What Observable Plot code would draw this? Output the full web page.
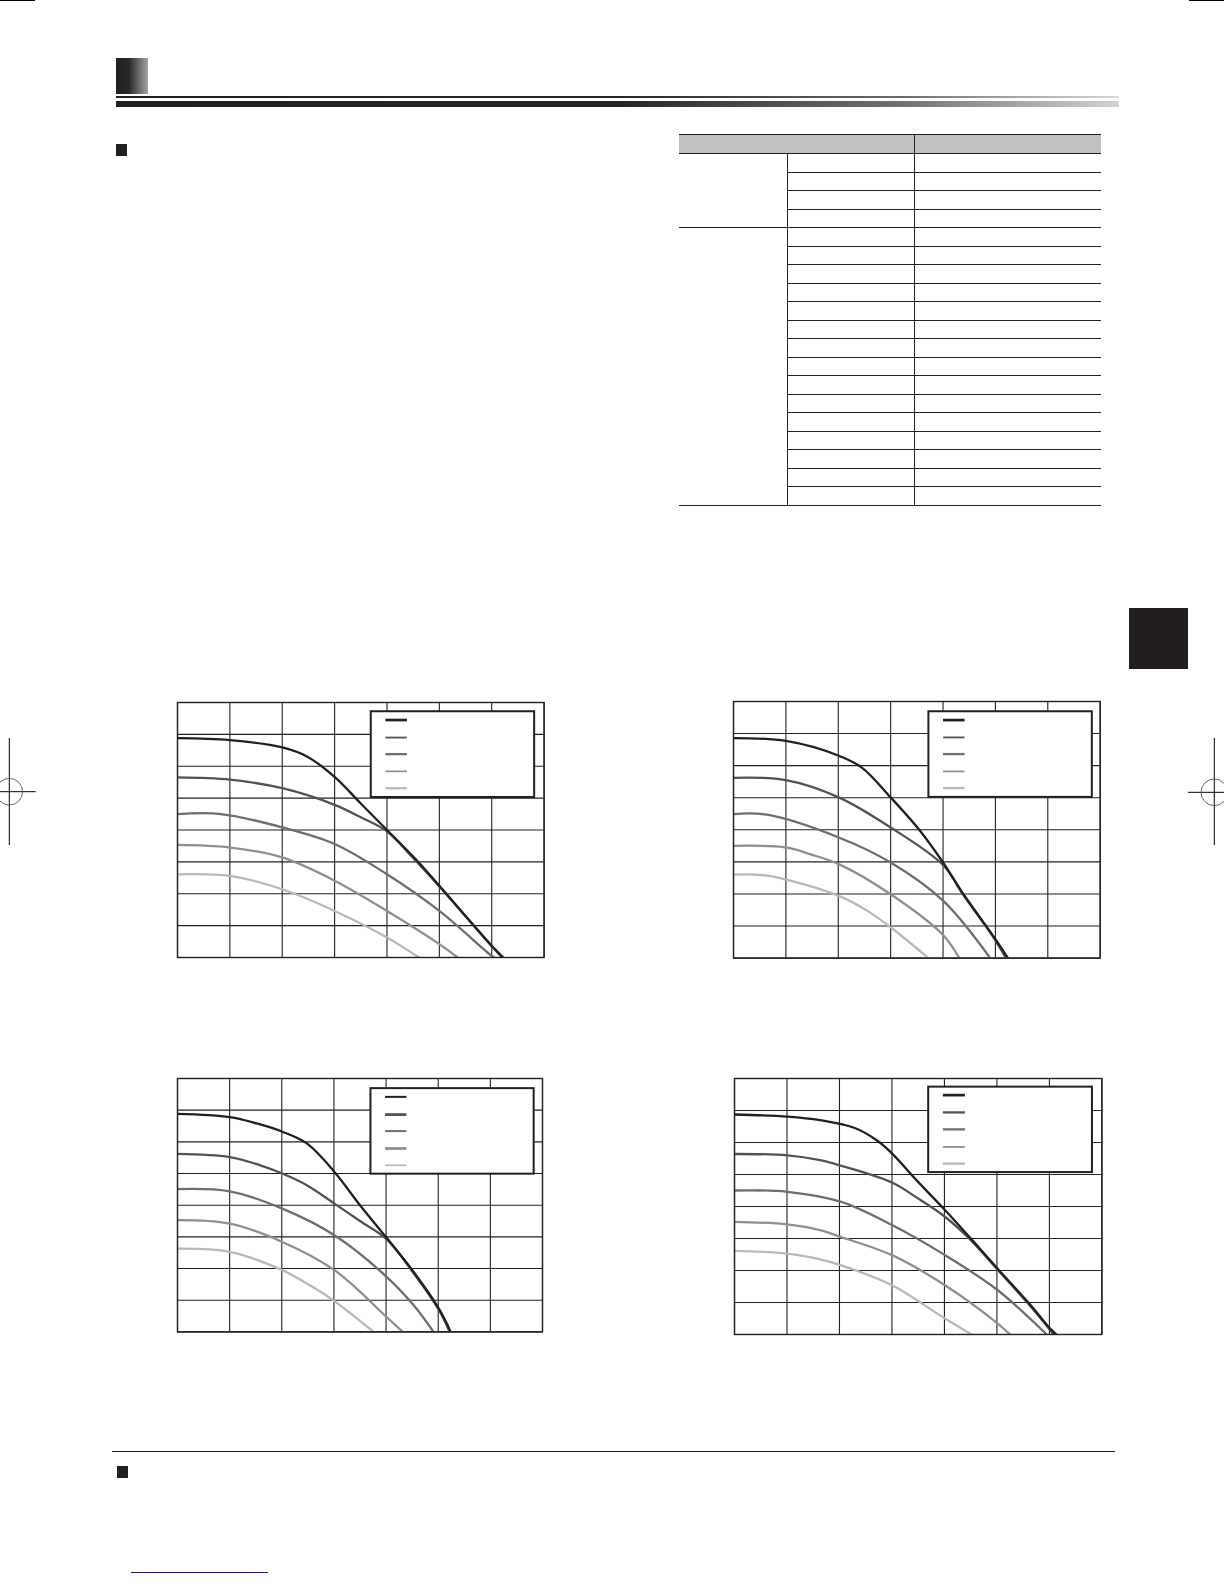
<!DOCTYPE html>
<html>
<head>
<meta charset="utf-8">
<script src="https://cdn.jsdelivr.net/npm/d3@7"></script>
<script src="https://cdn.jsdelivr.net/npm/@observablehq/plot@0.6"></script>
<style>
  html, body { margin: 0; padding: 0; background: #fff; }
  #page { position: relative; width: 1224px; height: 1584px; overflow: hidden; background: #fff; font-family: "DejaVu Sans", sans-serif; }
  .abs { position: absolute; }
  #spec { position: absolute; left: 679px; top: 134px; width: 422px; border-collapse: collapse; table-layout: fixed; }
  #spec th { height: 18px; background: #c0c0c0; border-top: 1.5px solid #231f20; border-bottom: 1.5px solid #231f20; padding: 0; }
  #spec td { height: 17.5px; padding: 0; }
  #spec td.g { border-bottom: 1.3px solid #231f20; }
  #spec td.c2 { border-left: 1.3px solid #231f20; border-right: 1.3px solid #231f20; border-bottom: 1.3px solid #231f20; }
  #spec td.c3 { border-bottom: 1.3px solid #231f20; }
</style>
</head>
<body>
<div id="page">
  <!-- crop marks -->
  <svg class="abs" style="left:0;top:0" width="1224" height="1584">
    <line x1="0" y1="0.5" x2="35" y2="0.5" stroke="#000" stroke-width="1.2"/>
    <line x1="1189" y1="0.5" x2="1224" y2="0.5" stroke="#000" stroke-width="1.2"/>
    <line x1="9.3" y1="738" x2="9.3" y2="845" stroke="#000" stroke-width="1"/>
    <line x1="0" y1="791.7" x2="35.7" y2="791.7" stroke="#000" stroke-width="1"/>
    <circle cx="9.3" cy="791.7" r="13.3" fill="none" stroke="#555" stroke-width="0.9"/>
    <line x1="1214.3" y1="738" x2="1214.3" y2="845" stroke="#000" stroke-width="1"/>
    <line x1="1188" y1="792.3" x2="1224" y2="792.3" stroke="#000" stroke-width="1"/>
    <circle cx="1214.3" cy="792.3" r="13.3" fill="none" stroke="#555" stroke-width="0.9"/>
  </svg>
  <!-- header -->
  <div class="abs" style="left:116px;top:58px;width:32px;height:36px;background:linear-gradient(to right,#231f20 0%,#2a2728 40%,#a5a5a5 100%)"></div>
  <div class="abs" style="left:116px;top:96px;width:1003px;height:2px;background:linear-gradient(to right,#231f20 0%,#262626 50%,#6a6a6a 78%,#d8d8d8 100%)"></div>
  <div class="abs" style="left:116px;top:101px;width:1003px;height:6px;background:linear-gradient(to right,#231f20 0%,#262626 50%,#707070 78%,#d2d2d2 100%)"></div>
  <!-- section markers -->
  <div class="abs" style="left:116px;top:144px;width:11px;height:12px;background:#231f20"></div>
  <div class="abs" style="left:117px;top:1466px;width:11px;height:12px;background:#231f20"></div>
  <div class="abs" style="left:112px;top:1450.5px;width:1003px;height:1.3px;background:#231f20"></div>
  <div class="abs" style="left:131px;top:1572px;width:137px;height:1px;background:#1c1c80"></div>
  <!-- side tab -->
  <div class="abs" style="left:1129px;top:608px;width:59px;height:61px;background:#231f20"></div>
  <!-- table -->
  <table id="spec">
    <colgroup><col style="width:108px"><col style="width:127.5px"><col style="width:186.5px"></colgroup>
    <thead><tr><th colspan="2" style="border-right:1.3px solid #231f20"></th><th></th></tr></thead>
    <tbody id="specBody"></tbody>
  </table>
  <div id="charts"></div>
</div>
<script>
// ---- table structure ----
const tableGroups = [4, 15];

// ---- chart grid ----
const xTicks = [0, 1, 2, 3, 4, 5, 6, 7];
const yTicks = [0, 1, 2, 3, 4, 5, 6, 7, 8];
const seriesColors = ["#231f20", "#525252", "#6e6e6e", "#8f8f8f", "#b8b8b8"];

// ---- chart A (top-left) ----
const A1 = [[0,6.88],[1,6.82],[2,6.59],[2.48,6.30],[3.01,5.65],[3.5,4.83],[4,4.0],[4.58,3.03],[5,2.25],[6,0.37],[6.22,0]];
const A2 = [[0,5.65],[1,5.58],[2,5.31],[3,4.79],[3.5,4.40],[4,3.96],[4.5,3.12],[5,2.23],[6,0.35],[6.2,0]];
const A3 = [[0,4.50],[0.83,4.50],[2,4.08],[3,3.56],[4,2.61],[5,1.46],[6,0.05],[6.05,0]];
const A4 = [[0,3.53],[1,3.45],[2,3.14],[3,2.41],[4,1.46],[5,0.42],[5.35,0]];
const A5 = [[0,2.61],[1,2.56],[2,2.14],[3,1.46],[4,0.63],[4.61,0]];
const A_legendBox = [3.70, 6.82, 5.02, 7.71];
const A_legendX = [3.98, 4.39];
const A_legendY = [7.45, 6.90, 6.38, 5.84, 5.31];
const A_legendW = [2.7, 1.8, 2.3, 1.7, 2.3];

// ---- chart B (top-right) ----
const B1 = [[0,6.86],[1,6.77],[2.01,6.31],[2.45,5.94],[3,5.01],[3.56,3.97],[4,2.98],[4.39,1.99],[4.98,0.64],[5.24,0]];
const B2 = [[0,5.62],[1,5.55],[2.01,5.01],[3,4.07],[4,2.90],[4.39,1.96],[4.98,0.6],[5.2,0]];
const B3 = [[0,4.49],[0.64,4.47],[2.01,3.76],[3,2.98],[4,1.79],[4.9,0]];
const B4 = [[0,3.50],[1,3.45],[1.46,3.24],[2.01,2.93],[3,1.99],[4,0.72],[4.31,0]];
const B5 = [[0,2.60],[0.64,2.57],[2.01,1.94],[2.55,1.48],[3,0.96],[3.72,0]];
const B_legendBox = [3.73, 6.85, 5.01, 7.68];
const B_legendX = [4.01, 4.42];
const B_legendY = [7.42, 6.88, 6.36, 5.82, 5.30];
const B_legendW = [2.7, 1.8, 2.3, 1.7, 2.3];

// ---- chart C (bottom-left) ----
const C1 = [[0,6.88],[1,6.78],[1.52,6.58],[2.01,6.32],[2.48,5.95],[3.01,5.05],[3.5,4.0],[4.01,2.97],[4.53,1.89],[5.01,0.74],[5.24,0]];
const C2 = [[0,5.62],[1,5.52],[1.59,5.26],[2.01,5.0],[2.48,4.63],[3.01,4.05],[3.5,3.50],[4.01,2.93],[4.53,1.85],[5.01,0.70],[5.22,0]];
const C3 = [[0,4.51],[1,4.44],[2.01,3.89],[3.01,3.05],[4.01,1.74],[4.53,0.84],[4.91,0]];
const C4 = [[0,3.53],[1,3.42],[2.01,2.84],[3.01,1.95],[4.01,0.47],[4.32,0]];
const C5 = [[0,2.63],[1,2.53],[2.01,1.95],[2.54,1.47],[3.01,0.97],[3.76,0]];
const C_legendBox = [3.71, 6.84, 4.98, 7.68];
const C_legendX = [3.99, 4.40];
const C_legendY = [7.42, 6.86, 6.34, 5.79, 5.26];
const C_legendW = [2.0, 2.8, 2.0, 2.8, 1.7];

// ---- chart D (bottom-right) ----
const D1 = [[0,6.875],[1.01,6.81],[1.63,6.70],[2.28,6.46],[2.71,6.07],[3,5.66],[3.48,4.80],[4.01,3.89],[4.49,3.02],[5.01,2.06],[5.64,0.92],[6.01,0.19],[6.13,0]];
const D2 = [[0,5.64],[1.01,5.60],[1.63,5.45],[2.02,5.28],[3,4.75],[3.48,4.27],[4.01,3.68],[4.49,2.97],[5.01,2.03],[5.64,0.88],[6.08,0]];
const D3 = [[0,4.5],[1.01,4.46],[2.02,4.15],[3,3.42],[4.01,2.48],[5.01,1.39],[5.95,0]];
const D4 = [[0,3.52],[1.01,3.44],[1.63,3.26],[2.02,3.05],[3,2.48],[4.01,1.54],[5.01,0.35],[5.25,0]];
const D5 = [[0,2.61],[1.01,2.53],[1.63,2.35],[2.02,2.17],[3,1.54],[4.01,0.5],[4.52,0]];
const D_legendBox = [3.70, 6.82, 5.06, 7.73];
const D_legendX = [3.98, 4.40];
const D_legendY = [7.48, 6.94, 6.41, 5.86, 5.34];
const D_legendW = [2.7, 2.3, 2.3, 1.8, 2.3];

// ---- build table ----
const tbody = document.getElementById("specBody");
tableGroups.forEach(n => {
  for (let i = 0; i < n; i++) {
    const tr = document.createElement("tr");
    if (i === 0) {
      const g = document.createElement("td");
      g.className = "g"; g.rowSpan = n; tr.appendChild(g);
    }
    const c2 = document.createElement("td"); c2.className = "c2"; tr.appendChild(c2);
    const c3 = document.createElement("td"); c3.className = "c3"; tr.appendChild(c3);
    tbody.appendChild(tr);
  }
});

// ---- build charts ----
const charts = [
  {frame: [176.7, 701.7, 543.3, 956.7], series: [A1,A2,A3,A4,A5], box: A_legendBox, lx: A_legendX, ly: A_legendY, lw: A_legendW},
  {frame: [733.3, 700.7, 1100.0, 957.3], series: [B1,B2,B3,B4,B5], box: B_legendBox, lx: B_legendX, ly: B_legendY, lw: B_legendW},
  {frame: [177.3, 1078.3, 542.3, 1331.7], series: [C1,C2,C3,C4,C5], box: C_legendBox, lx: C_legendX, ly: C_legendY, lw: C_legendW},
  {frame: [734.3, 1078.3, 1101.7, 1334.3], series: [D1,D2,D3,D4,D5], box: D_legendBox, lx: D_legendX, ly: D_legendY, lw: D_legendW}
];
const M = 4;
const host = document.getElementById("charts");
charts.forEach(c => {
  const [l, t, r, b] = c.frame;
  const w = r - l, h = b - t;
  const marks = [
    Plot.ruleX(xTicks, {stroke: "#231f20", strokeWidth: 1.1}),
    Plot.ruleY(yTicks, {stroke: "#231f20", strokeWidth: 1.1}),
    Plot.rect([c.box], {x1: d => d[0], x2: d => d[1], y1: d => d[2], y2: d => d[3], fill: "#fff", stroke: "#231f20", strokeWidth: 2}),
    ...c.ly.map((yv, i) => Plot.ruleY([yv], {x1: c.lx[0], x2: c.lx[1], stroke: seriesColors[i], strokeWidth: c.lw[i]})),
    ...c.series.slice().reverse().map((s, k) => {
      const i = c.series.length - 1 - k;
      return Plot.line(s, {x: d => d[0], y: d => d[1], stroke: seriesColors[i], strokeWidth: 2.3, curve: "catmull-rom", clip: true});
    }),
    Plot.frame({stroke: "#231f20", strokeWidth: 1.4})
  ];
  const svg = Plot.plot({
    width: w + 2 * M, height: h + 2 * M,
    marginLeft: M, marginRight: M, marginTop: M, marginBottom: M,
    x: {domain: [0, 7], axis: null},
    y: {domain: [0, 8], axis: null},
    style: {background: "transparent", overflow: "visible"},
    marks
  });
  const div = document.createElement("div");
  div.className = "abs";
  div.style.left = (l - M) + "px";
  div.style.top = (t - M) + "px";
  div.appendChild(svg);
  host.appendChild(div);
});
</script>
</body>
</html>
